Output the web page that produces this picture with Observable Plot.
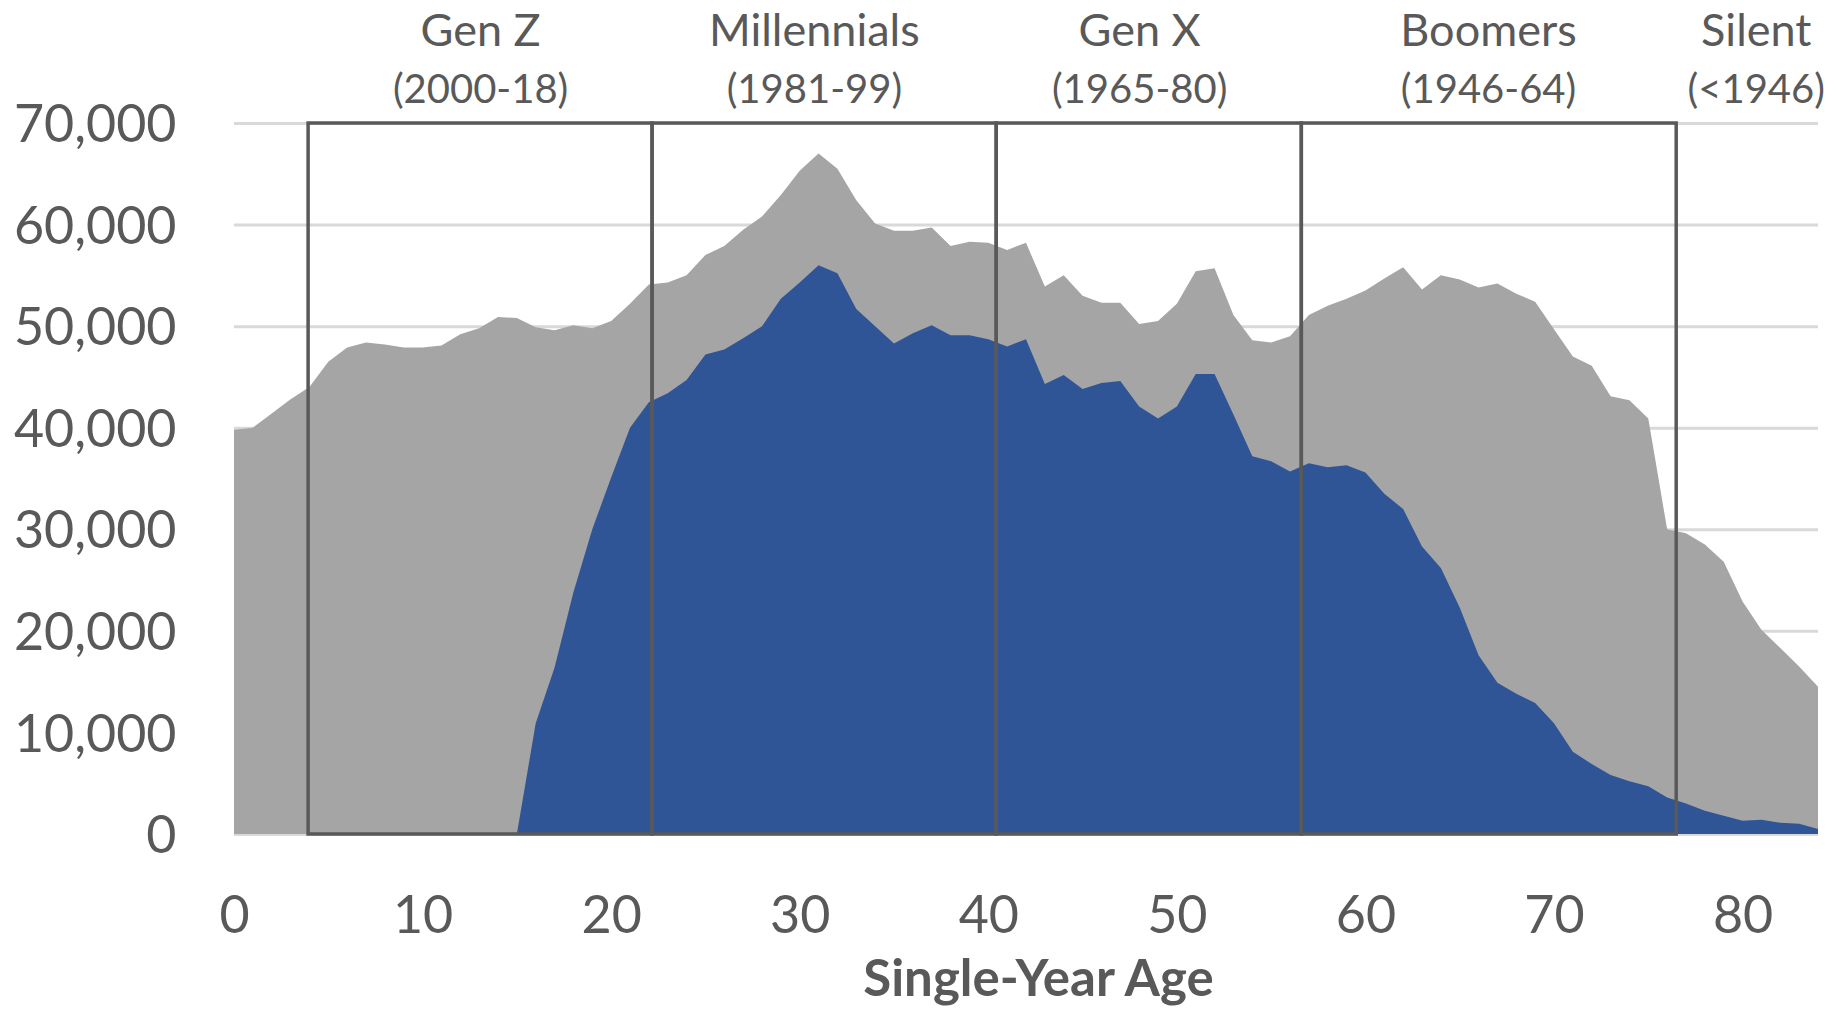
<!DOCTYPE html>
<html>
<head>
<meta charset="utf-8">
<script src="https://cdn.jsdelivr.net/npm/d3@7"></script>
<script src="https://cdn.jsdelivr.net/npm/@observablehq/plot@0.6"></script>
<style>
  html, body { margin: 0; padding: 0; background: #ffffff; }
  #chart svg { display: block; }
</style>
</head>
<body>
<div id="chart"></div>
<script>
// ---- data ----
const ages = [0,1,2,3,4,5,6,7,8,9,10,11,12,13,14,15,16,17,18,19,20,21,22,23,24,25,26,27,28,29,
  30,31,32,33,34,35,36,37,38,39,40,41,42,43,44,45,46,47,48,49,50,51,52,53,54,55,56,57,58,59,
  60,61,62,63,64,65,66,67,68,69,70,71,72,73,74,75,76,77,78,79,80,81,82,83,84];

const totalPop = [39800,40000,41400,42800,44000,46500,47900,48400,48200,47900,
  47900,48100,49200,49800,50900,50800,49900,49600,50100,49800,
  50500,52200,54100,54300,55000,57000,57900,59500,60800,62900,
  65300,67000,65500,62400,60100,59400,59400,59700,57900,58300,
  58200,57500,58200,53900,55000,53000,52300,52300,50200,50500,
  52200,55400,55700,51100,48600,48400,49000,51100,52000,52700,
  53500,54700,55800,53600,55000,54600,53800,54200,53200,52400,
  49700,47000,46100,43100,42700,40900,30000,29600,28500,26800,
  22900,20100,18300,16500,14500];

const bluePop = [0,0,0,0,0,0,0,0,0,0,
  0,0,0,0,0,0,10900,16400,23800,30000,
  35100,40000,42500,43400,44700,47200,47700,48800,50000,52700,
  54300,56000,55200,51700,50000,48300,49300,50100,49100,49100,
  48700,48000,48700,44300,45200,43800,44400,44600,42100,40900,
  42100,45300,45300,41300,37200,36700,35700,36500,36100,36300,
  35600,33500,32000,28300,26200,22300,17600,14900,13800,12900,
  10900,8100,6900,5800,5200,4700,3600,3000,2300,1800,
  1300,1400,1100,1000,500];

const genNames = ["Gen Z", "Millennials", "Gen X", "Boomers", "Silent"];
const genYears = ["(2000-18)", "(1981-99)", "(1965-80)", "(1946-64)", "(<1946)"];
const genLabelAge = [13.05, 30.75, 48.0, 66.5, 80.7];

const boxStart = [3.93, 22.17, 40.42, 56.6];
const boxEnd = [22.17, 40.42, 56.6, 76.48];
const boxBottom = 0;
const boxTop = 70000;

const yTicks = [0, 10000, 20000, 30000, 40000, 50000, 60000, 70000];
const xTicks = [0, 10, 20, 30, 40, 50, 60, 70, 80];
const xTitle = "Single-Year Age";

// ---- tables built from the arrays ----
const rows = ages.map((a, i) => ({age: a, total: totalPop[i], blue: bluePop[i]}));
const boxes = boxStart.map((s, i) => ({start: s, end: boxEnd[i], y1: boxBottom, y2: boxTop}));
const labels = genNames.map((n, i) => ({age: genLabelAge[i], name: n, years: genYears[i]}));

const textColor = "#595959";

const chart = Plot.plot({
  width: 1837,
  height: 1011,
  marginLeft: 234,
  marginRight: 19,
  marginTop: 123,
  marginBottom: 177,
  style: {fontFamily: "Lato, 'Open Sans', sans-serif", color: textColor, background: "#ffffff"},
  x: {domain: [0, 84]},
  y: {domain: [0, 70000]},
  marks: [
    Plot.gridY(yTicks, {stroke: "#d9d9d9", strokeOpacity: 1, strokeWidth: 3}),
    Plot.areaY(rows, {x: "age", y: "total", fill: "#a5a5a5", curve: "linear"}),
    Plot.areaY(rows, {x: "age", y: "blue", fill: "#2f5597", curve: "linear"}),
    Plot.rect(boxes, {x1: "start", x2: "end", y1: "y1", y2: "y2", fill: "none", stroke: "#595959", strokeWidth: 3.5}),
    Plot.axisY(yTicks, {tickSize: 0, tickPadding: 58, tickFormat: d3.format(","), fontSize: 52, label: null, dy: 2}),
    Plot.axisX(xTicks, {tickSize: 0, tickPadding: 62, fontSize: 52, label: null}),
    Plot.text(labels, {x: "age", text: "name", frameAnchor: "top", lineAnchor: "middle", dy: -92, fontSize: 45, fill: textColor}),
    Plot.text(labels, {x: "age", text: "years", frameAnchor: "top", lineAnchor: "middle", dy: -33, fontSize: 40, fill: textColor}),
    Plot.text([xTitle], {frameAnchor: "bottom", lineAnchor: "middle", dy: 145, dx: 12, fontSize: 51, fontWeight: "bold", fill: textColor})
  ]
});

document.getElementById("chart").appendChild(chart);
</script>
</body>
</html>
